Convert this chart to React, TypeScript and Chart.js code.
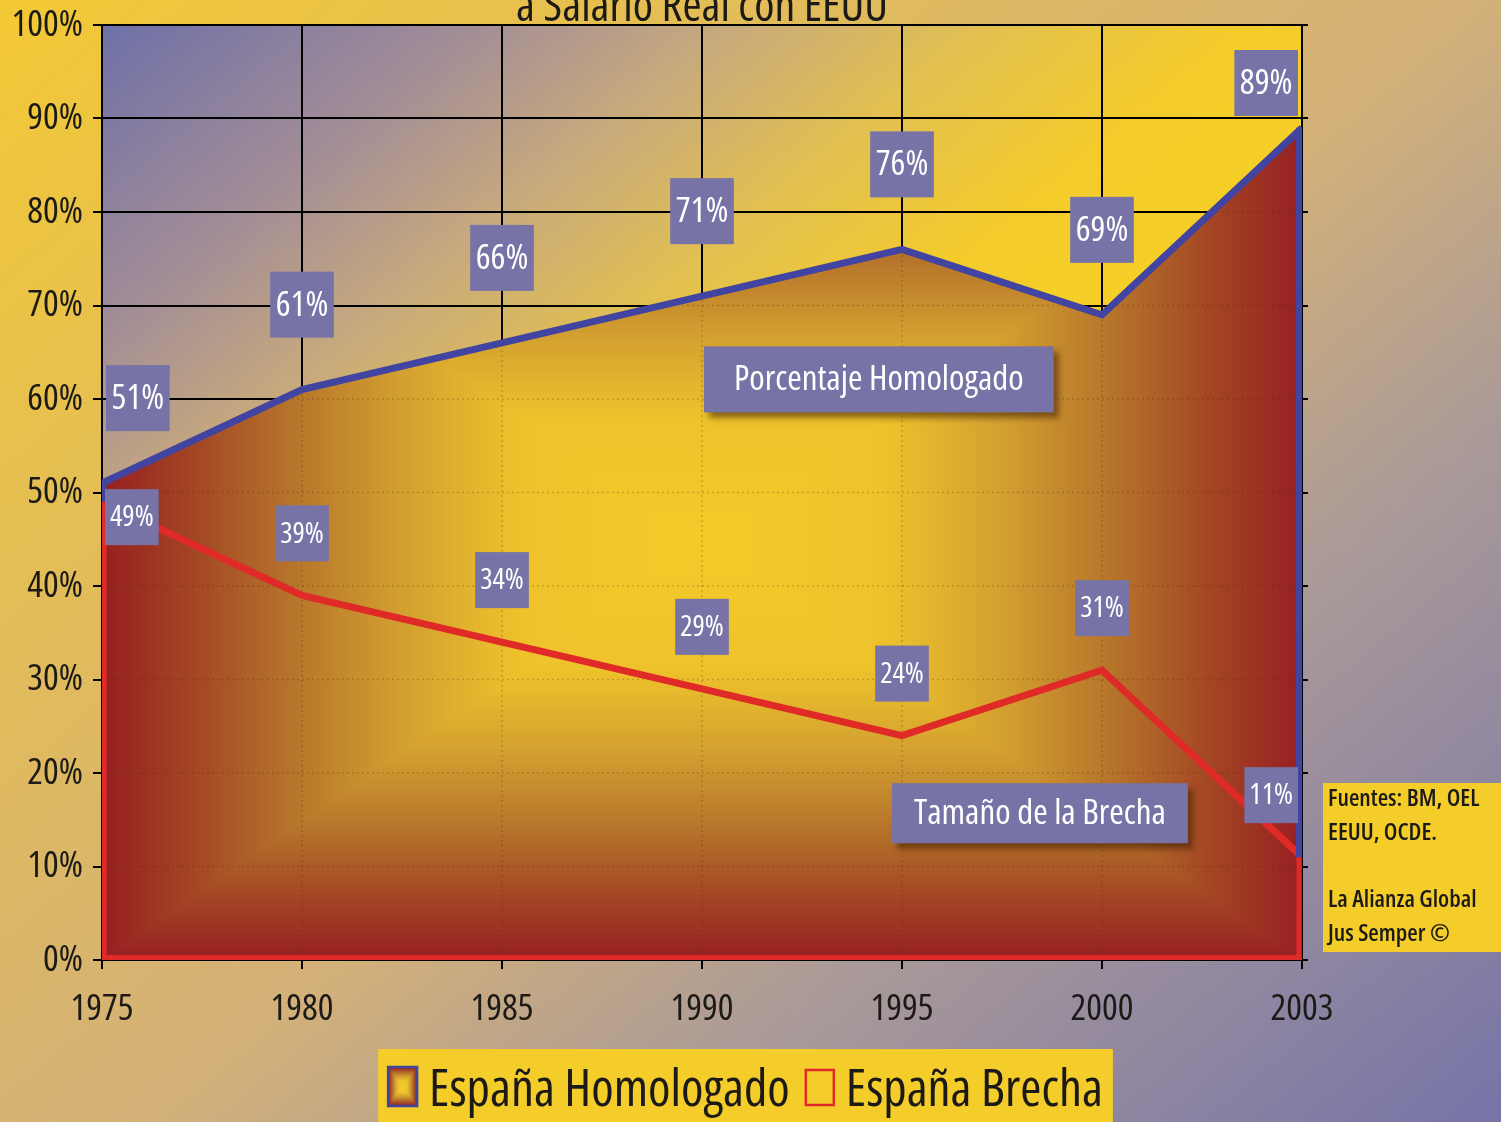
import React, { useEffect, useRef } from "react";
import { Chart, registerables } from "chart.js";

Chart.register(...registerables);

// ---------- data ----------
const years = ["1975", "1980", "1985", "1990", "1995", "2000", "2003"];
const homologado = [51, 61, 66, 71, 76, 69, 89];
const brecha = [49, 39, 34, 29, 24, 31, 11];
const seriesNames = ["España Homologado", "España Brecha"];
const titleLine = "a Salario Real con EEUU";
const annotationTexts = ["Porcentaje Homologado", "Tamaño de la Brecha"];
const sourceLines = ["Fuentes: BM, OEL", "EEUU, OCDE.", "", "La Alianza Global", "Jus Semper ©"];

// ---------- styles ----------
const FAMILY = '"Open Sans", "DejaVu Sans Condensed", sans-serif';
const f = (size: number, weight = "") => `condensed ${weight ? weight + " " : ""}${size}px ${FAMILY}`;
const BOX = "#7773a6";
const BLUE = "#4144a0";
const RED = "#e02a28";
const YELLOW = "#f5cd2a";
const TEXT = "#1c1a16";

type Stop = [number, number[]];
const AREA_STOPS: Stop[] = [
  [0, [243, 203, 41]],
  [0.3, [238, 194, 43]],
  [0.5, [211, 160, 48]],
  [0.7, [180, 112, 42]],
  [0.85, [163, 69, 36]],
  [1, [150, 31, 33]],
];

function colorAt(stops: Stop[], t: number): number[] {
  if (t <= stops[0][0]) return stops[0][1];
  for (let i = 1; i < stops.length; i++) {
    if (t <= stops[i][0]) {
      const [t0, c0] = stops[i - 1];
      const [t1, c1] = stops[i];
      const k = (t - t0) / (t1 - t0);
      return [c0[0] + (c1[0] - c0[0]) * k, c0[1] + (c1[1] - c0[1]) * k, c0[2] + (c1[2] - c0[2]) * k];
    }
  }
  return stops[stops.length - 1][1];
}

function rectGradientCanvas(w: number, h: number, cx: number, cy: number, hw: number, hh: number, stops: Stop[]) {
  const cv = document.createElement("canvas");
  cv.width = Math.max(1, w);
  cv.height = Math.max(1, h);
  const c = cv.getContext("2d")!;
  const img = c.createImageData(cv.width, cv.height);
  const d = img.data;
  for (let y = 0; y < cv.height; y++) {
    const dy = Math.abs(y + 0.5 - cy) / hh;
    for (let x = 0; x < cv.width; x++) {
      const dx = Math.abs(x + 0.5 - cx) / hw;
      const t = Math.min(1, Math.max(dx, dy));
      const col = colorAt(stops, t);
      const k = (y * cv.width + x) * 4;
      d[k] = col[0];
      d[k + 1] = col[1];
      d[k + 2] = col[2];
      d[k + 3] = 255;
    }
  }
  c.putImageData(img, 0, 0);
  return cv;
}

let patternCache: { key: string; pattern: CanvasPattern | null } = { key: "", pattern: null };

function areaFill(c: any) {
  const chart = c.chart;
  const a = chart.chartArea;
  if (!a || !chart.scales || !chart.scales.y) return "rgb(200,140,40)";
  const yScale = chart.scales.y;
  const top = yScale.getPixelForValue(Math.max(...homologado));
  const key = [a.left, a.top, a.right, a.bottom, top].map((v: number) => Math.round(v)).join(",");
  if (patternCache.key === key && patternCache.pattern) return patternCache.pattern;
  const w = Math.ceil(a.right - a.left);
  const h = Math.ceil(a.bottom - a.top);
  const region = rectGradientCanvas(w, h, w / 2, (top + a.bottom) / 2 - a.top, w / 2, (a.bottom - top) / 2, AREA_STOPS);
  const full = document.createElement("canvas");
  full.width = chart.width;
  full.height = chart.height;
  full.getContext("2d")!.drawImage(region, a.left, a.top);
  const pattern = chart.ctx.createPattern(full, "no-repeat");
  patternCache = { key, pattern };
  return pattern;
}

function drawBox(ctx: CanvasRenderingContext2D, cx: number, cy: number, w: number, h: number, text: string, size: number, shadow = false) {
  ctx.save();
  if (shadow) {
    ctx.shadowColor = "rgba(60,30,0,0.55)";
    ctx.shadowBlur = 6;
    ctx.shadowOffsetX = 5;
    ctx.shadowOffsetY = 6;
  }
  ctx.fillStyle = BOX;
  ctx.fillRect(cx - w / 2, cy - h / 2, w, h);
  ctx.restore();
  ctx.save();
  ctx.fillStyle = "#ffffff";
  ctx.font = f(size);
  ctx.textAlign = "center";
  ctx.textBaseline = "middle";
  ctx.fillText(text, cx, cy + 1);
  ctx.restore();
}

const backgroundPlugin = {
  id: "bgPlugin",
  beforeDraw(chart: any) {
    const { ctx, width, height, chartArea: a } = chart;
    ctx.save();
    const g = ctx.createLinearGradient(0, 0, 1380, 1642);
    g.addColorStop(0, "#f3c935");
    g.addColorStop(0.45, "#d2b07a");
    g.addColorStop(0.6, "#aa9a98");
    g.addColorStop(0.85, "#7674a8");
    g.addColorStop(1, "#6c6caa");
    ctx.fillStyle = g;
    ctx.fillRect(0, 0, width, height);
    const g2 = ctx.createLinearGradient(a.left, a.top, a.left + 517, a.top + 620);
    g2.addColorStop(0, "#6e70a8");
    g2.addColorStop(0.3, "#a48e96");
    g2.addColorStop(0.5, "#c8aa7c");
    g2.addColorStop(0.7, "#e2c050");
    g2.addColorStop(0.9, "#f3cb2c");
    g2.addColorStop(1, "#f5ce28");
    ctx.fillStyle = g2;
    ctx.fillRect(a.left, a.top, a.right - a.left, a.bottom - a.top);
    ctx.restore();
  },
  // faint dotted grid showing through the filled area (drawn after the area, before the Brecha line)
  beforeDatasetDraw(chart: any, args: any) {
    if (args.index !== 1) return;
    const { ctx, chartArea: a } = chart;
    const mH = chart.getDatasetMeta(0);
    const xs = chart.scales.x;
    const ys = chart.scales.y;
    ctx.save();
    ctx.beginPath();
    ctx.moveTo(mH.data[0].x, a.bottom);
    mH.data.forEach((p: any) => ctx.lineTo(p.x, p.y + 4));
    ctx.lineTo(mH.data[mH.data.length - 1].x, a.bottom);
    ctx.closePath();
    ctx.clip();
    ctx.strokeStyle = "rgba(70,30,0,0.22)";
    ctx.lineWidth = 1.5;
    ctx.setLineDash([2, 3]);
    ys.ticks.forEach((_t: any, i: number) => {
      const y = ys.getPixelForTick(i);
      ctx.beginPath();
      ctx.moveTo(a.left, y);
      ctx.lineTo(a.right, y);
      ctx.stroke();
    });
    xs.ticks.forEach((_t: any, i: number) => {
      const x = xs.getPixelForTick(i);
      ctx.beginPath();
      ctx.moveTo(x, a.top);
      ctx.lineTo(x, a.bottom);
      ctx.stroke();
    });
    ctx.restore();
  },
};

const overlayPlugin = {
  id: "overlayPlugin",
  afterDatasetsDraw(chart: any) {
    const { ctx, chartArea: a } = chart;
    const mH = chart.getDatasetMeta(0);
    const mB = chart.getDatasetMeta(1);
    const n = homologado.length;

    // area outline along the plot edges (Excel-style area borders)
    ctx.save();
    ctx.beginPath();
    ctx.rect(a.left, a.top, a.right - a.left, a.bottom - a.top);
    ctx.clip();
    ctx.lineCap = "butt";
    ctx.lineWidth = 5;
    ctx.strokeStyle = RED;
    ctx.beginPath();
    ctx.moveTo(a.left + 2, mB.data[0].y);
    ctx.lineTo(a.left + 2, a.bottom - 2.5);
    ctx.lineTo(a.right - 3, a.bottom - 2.5);
    ctx.lineTo(a.right - 3, mB.data[n - 1].y);
    ctx.stroke();
    ctx.strokeStyle = BLUE;
    ctx.lineWidth = 6;
    ctx.beginPath();
    ctx.moveTo(a.right - 3, mH.data[n - 1].y);
    ctx.lineTo(a.right - 3, mB.data[n - 1].y);
    ctx.stroke();
    ctx.lineWidth = 5;
    ctx.beginPath();
    ctx.moveTo(a.left + 2, mH.data[0].y);
    ctx.lineTo(a.left + 2, mB.data[0].y);
    ctx.stroke();
    ctx.restore();

    // value labels: Homologado
    ctx.save();
    ctx.font = f(35);
    homologado.forEach((v, i) => {
      const p = mH.data[i];
      const text = v + "%";
      const w = ctx.measureText(text).width + 11;
      const h = 66;
      const cx = Math.min(Math.max(p.x, a.left + 4 + w / 2), a.right - 4 - w / 2);
      let cy = p.y - 85;
      if (cy - h / 2 < a.top + 25) cy = a.top + 25 + h / 2;
      drawBox(ctx, cx, cy, w, h, text, 35);
    });
    ctx.restore();

    // value labels: Brecha
    ctx.save();
    ctx.font = f(29);
    brecha.forEach((v, i) => {
      const p = mB.data[i];
      const text = v + "%";
      const w = ctx.measureText(text).width + 10;
      const h = 56;
      const cx = Math.min(Math.max(p.x, a.left + 3 + w / 2), a.right - 4 - w / 2);
      let cy = p.y - 62;
      const minTop = mH.data[i].y + 6;
      if (cy - h / 2 < minTop) cy = minTop + h / 2;
      drawBox(ctx, cx, cy, w, h, text, 29);
    });
    ctx.restore();

    // series annotations
    const xs = chart.scales.x;
    const ys = chart.scales.y;
    ctx.save();
    ctx.font = f(35);
    const t1 = annotationTexts[0];
    const w1 = ctx.measureText(t1).width + 60;
    const l1 = xs.getPixelForValue(3) + 2;
    drawBox(ctx, l1 + w1 / 2, ys.getPixelForValue(62.1), w1, 66, t1, 35, true);
    const t2 = annotationTexts[1];
    const w2 = ctx.measureText(t2).width + 44;
    const l2 = xs.getPixelForValue(4) - 10;
    drawBox(ctx, l2 + w2 / 2, ys.getPixelForValue(15.7), w2, 60, t2, 35, true);
    ctx.restore();
  },
  afterDraw(chart: any) {
    const { ctx, chartArea: a, width } = chart;

    // title (second line, cropped at top)
    ctx.save();
    ctx.fillStyle = TEXT;
    ctx.font = f(46);
    ctx.textAlign = "center";
    ctx.textBaseline = "alphabetic";
    ctx.fillText(titleLine, (a.left + a.right) / 2, 21);
    ctx.restore();

    // source box
    ctx.save();
    const sx = a.right + 21;
    const sy = a.bottom - 177;
    ctx.fillStyle = YELLOW;
    ctx.fillRect(sx, sy, width - sx, 169);
    ctx.fillStyle = TEXT;
    ctx.font = f(24, "600");
    ctx.textAlign = "left";
    ctx.textBaseline = "middle";
    sourceLines.forEach((line, i) => {
      if (line) ctx.fillText(line, sx + 5, sy + 16 + i * 33.8);
    });
    ctx.restore();

    // legend
    ctx.save();
    ctx.font = f(51);
    const tw1 = ctx.measureText(seriesNames[0]).width;
    const tw2 = ctx.measureText(seriesNames[1]).width;
    const lw = 10 + 29 + 12 + tw1 + 16 + 28 + 12 + tw2 + 10;
    const lx = width / 2 - 5 - lw / 2;
    const ly = a.bottom + 89;
    ctx.fillStyle = YELLOW;
    ctx.fillRect(lx, ly, lw, 100);
    const s1x = lx + 10;
    const s1y = ly + 18;
    const sw = rectGradientCanvas(29, 39, 14.5, 19.5, 14.5, 19.5, AREA_STOPS);
    ctx.drawImage(sw, s1x, s1y);
    ctx.strokeStyle = BLUE;
    ctx.lineWidth = 2.5;
    ctx.strokeRect(s1x, s1y, 29, 39);
    ctx.fillStyle = TEXT;
    ctx.textBaseline = "alphabetic";
    ctx.textAlign = "left";
    const t1x = s1x + 29 + 12;
    ctx.fillText(seriesNames[0], t1x, ly + 57);
    const s2x = t1x + tw1 + 16;
    ctx.strokeStyle = RED;
    ctx.lineWidth = 2.5;
    ctx.strokeRect(s2x, ly + 21, 28, 35);
    ctx.fillText(seriesNames[1], s2x + 28 + 12, ly + 57);
    ctx.restore();
  },
};

export default function App() {
  const ref = useRef<HTMLCanvasElement | null>(null);
  useEffect(() => {
    if (!ref.current) return;
    // "condensed" is passed through the weight slot so the canvas font string selects the condensed face
    const tickFont = { family: FAMILY, size: 37, weight: "condensed" as any };
    const chart = new Chart(ref.current, {
      type: "line",
      data: {
        labels: years,
        datasets: [
          {
            label: seriesNames[0],
            data: homologado,
            borderColor: BLUE,
            borderWidth: 7,
            backgroundColor: areaFill as any,
            fill: "origin",
            pointRadius: 0,
            tension: 0,
            order: 2,
            clip: 0 as any,
          },
          {
            label: seriesNames[1],
            data: brecha,
            borderColor: RED,
            borderWidth: 7,
            backgroundColor: "transparent",
            fill: false,
            pointRadius: 0,
            tension: 0,
            order: 1,
            clip: 0 as any,
          },
        ],
      },
      options: {
        responsive: false,
        maintainAspectRatio: false,
        animation: false,
        devicePixelRatio: 1,
        layout: { padding: { left: 0, top: 25, right: 191, bottom: 82 } },
        plugins: { legend: { display: false }, tooltip: { enabled: false }, title: { display: false } },
        scales: {
          x: {
            type: "category",
            offset: false,
            grid: { color: "#000", lineWidth: 2, tickLength: 9, drawTicks: true },
            border: { color: "#000", width: 2 },
            ticks: { color: TEXT, font: tickFont, padding: 18, maxRotation: 0, autoSkip: false },
            afterFit: (s: any) => {
              s.height = 80;
              s.paddingLeft = 0;
              s.paddingRight = 0;
            },
          },
          y: {
            min: 0,
            max: 100,
            grid: { color: "#000", lineWidth: 2, tickLength: 9 },
            border: { color: "#000", width: 2 },
            ticks: { stepSize: 10, color: TEXT, font: tickFont, padding: 10, callback: (v: any) => v + "%" },
            afterFit: (s: any) => {
              s.width = 102;
              s.paddingTop = 0;
              s.paddingBottom = 0;
            },
          },
          y2: {
            position: "right",
            min: 0,
            max: 100,
            grid: { drawOnChartArea: false, color: "#000", lineWidth: 2, tickLength: 6 },
            border: { color: "#000", width: 2 },
            ticks: { stepSize: 10, display: false },
            afterFit: (s: any) => {
              s.width = 8;
              s.paddingTop = 0;
              s.paddingBottom = 0;
            },
          },
        },
      } as any,
      plugins: [backgroundPlugin, overlayPlugin],
    });
    return () => chart.destroy();
  }, []);

  return (
    <div style={{ position: "absolute", left: 0, top: 0, width: 1501, height: 1122, overflow: "hidden" }}>
      <canvas ref={ref} width={1501} height={1122} style={{ display: "block", width: 1501, height: 1122 }} />
    </div>
  );
}
